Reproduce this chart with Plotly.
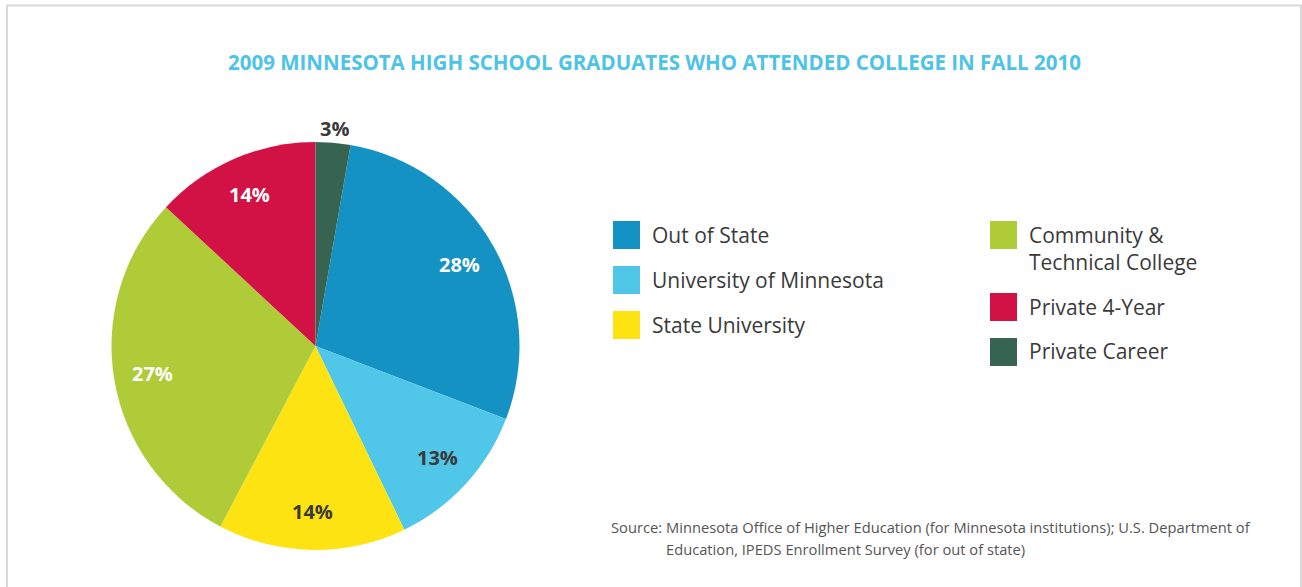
import math
import plotly.graph_objects as go

W, H = 1302, 587

# data: slice sizes as drawn (the printed labels are rounded differently)
categories = ["Out of State", "University of Minnesota", "State University",
              "Community &<br>Technical College", "Private 4-Year", "Private Career"]
shares = [28.1, 12.0, 14.9, 29.2, 13.1, 2.75]
labels_pct = ["28%", "13%", "14%", "27%", "14%", "3%"]
colors = ["#1592c4", "#50c6e9", "#fee313", "#afcb37", "#d21245", "#366450"]
label_colors = ["white", "#3a3a3a", "#3a3a3a", "white", "white", "#3a3a3a"]
label_outside = [False, False, False, False, False, True]
legend_columns = [[0, 1, 2], [3, 4, 5]]

title = "2009 MINNESOTA HIGH SCHOOL GRADUATES WHO ATTENDED COLLEGE IN FALL 2010"
source_lines = ["Minnesota Office of Higher Education (for Minnesota institutions); U.S. Department of",
                "Education, IPEDS Enrollment Survey (for out of state)"]

FONT = "Open Sans"
TEXT = "#3a3a3a"


def px(x):
    return x / W


def py(y):
    return 1 - y / H


# pie box in pixels
cx, cy, R = 315.5, 346, 204

# last slice (Private Career) sits just right of 12 o'clock, so rotate the first one past it
total = sum(shares)
rotation = 360 * shares[-1] / total

fig = go.Figure(go.Pie(
    labels=[c.replace("<br>", " ") for c in categories],
    values=shares,
    text=labels_pct,
    textinfo="none",
    marker=dict(colors=colors, line=dict(width=0)),
    sort=False,
    direction="clockwise",
    rotation=rotation,
    showlegend=False,
    hoverinfo="label+text",
    domain=dict(x=[px(cx - R), px(cx + R)], y=[py(cy + R), py(cy - R)]),
))

shapes = [dict(type="rect", xref="paper", yref="paper",
               x0=px(7), x1=px(1301), y0=-0.1, y1=py(5.5),
               line=dict(color="#d9d9d9", width=2))]

annotations = [dict(text=f"<b>{title}</b>", xref="paper", yref="paper",
                    x=0.503, y=py(62), xanchor="center", yanchor="middle",
                    showarrow=False, font=dict(family=FONT, size=20.5, color="#4dc3e6"))]

# percentage labels, placed along each slice's mid angle
cum = 0
for v, txt, col, out in zip(shares, labels_pct, label_colors, label_outside):
    theta = math.radians(rotation + 360 * (cum + v / 2) / total)
    cum += v
    r = R * (1.07 if out else 0.81)
    annotations.append(dict(text=f"<b>{txt}</b>", xref="paper", yref="paper",
                            x=px(cx + r * math.sin(theta)), y=py(cy - r * math.cos(theta)),
                            xanchor="center", yanchor="middle", showarrow=False,
                            font=dict(family=FONT, size=20, color=col)))

# legend, two columns
col_x = [613, 990]
sw_w, sw_h = 27, 28
line_h = 27
for ci, idxs in enumerate(legend_columns):
    yc = 235
    for i in idxs:
        x0 = col_x[ci]
        shapes.append(dict(type="rect", xref="paper", yref="paper",
                           x0=px(x0), x1=px(x0 + sw_w),
                           y0=py(yc + sw_h / 2), y1=py(yc - sw_h / 2),
                           fillcolor=colors[i], line=dict(width=0)))
        annotations.append(dict(text=categories[i], xref="paper", yref="paper",
                                x=px(x0 + 37), y=py(yc - line_h / 2 - 3),
                                xanchor="left", yanchor="top", align="left",
                                showarrow=False,
                                font=dict(family=FONT, size=21, color=TEXT)))
        nlines = categories[i].count("<br>") + 1
        yc += 45 + line_h * (nlines - 1)

src_font = dict(family=FONT, size=14.7, color="#555555")
annotations.append(dict(text="Source:", xref="paper", yref="paper",
                        x=px(609), y=py(527), xanchor="left", yanchor="middle",
                        showarrow=False, font=src_font))
for k, line in enumerate(source_lines):
    annotations.append(dict(text=line, xref="paper", yref="paper",
                            x=px(664), y=py(527 + 22 * k), xanchor="left", yanchor="middle",
                            showarrow=False, font=src_font))

fig.update_layout(
    width=W, height=H,
    margin=dict(l=0, r=0, t=0, b=0),
    paper_bgcolor="white",
    plot_bgcolor="white",
    shapes=shapes,
    annotations=annotations,
)

fig.write_html("out.html", config={"displayModeBar": False},
               post_script="document.body.style.margin='0';")
